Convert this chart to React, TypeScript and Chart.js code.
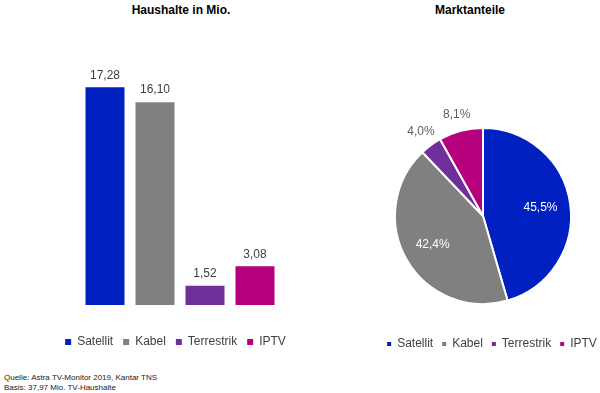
import React, { useEffect, useRef } from "react";
import { Chart, registerables } from "chart.js";

Chart.register(...registerables);

const categories = ["Satellit", "Kabel", "Terrestrik", "IPTV"];
const households = [17.28, 16.1, 1.52, 3.08];
const shares = [45.5, 42.4, 4.0, 8.1];
const colors = ["#0020C2", "#808080", "#70309A", "#B6007E"];
const barTitle = "Haushalte in Mio.";
const pieTitle = "Marktanteile";
const sourceLines = ["Quelle: Astra TV-Monitor 2019, Kantar TNS", "Basis: 37,97 Mio. TV-Haushalte"];

const FONT = "'Liberation Sans', Arial, sans-serif";
const fmt = (v: number, d: number) => v.toFixed(d).replace(".", ",");

const barLabels = {
  id: "barLabels",
  afterDatasetsDraw(chart: any) {
    const ctx = chart.ctx;
    const meta = chart.getDatasetMeta(0);
    ctx.save();
    ctx.font = `12px ${FONT}`;
    ctx.fillStyle = "#404040";
    ctx.textAlign = "center";
    ctx.textBaseline = "middle";
    meta.data.forEach((el: any, i: number) => {
      ctx.fillText(fmt(households[i], 2), el.x, el.y - 12);
    });
    ctx.restore();
  },
};

const pieLabels = {
  id: "pieLabels",
  afterDatasetsDraw(chart: any) {
    const ctx = chart.ctx;
    const meta = chart.getDatasetMeta(0);
    ctx.save();
    ctx.font = `12px ${FONT}`;
    ctx.textAlign = "center";
    ctx.textBaseline = "middle";
    meta.data.forEach((arc: any, i: number) => {
      const mid = (arc.startAngle + arc.endAngle) / 2;
      const big = shares[i] > 20;
      const r = arc.outerRadius * (big ? 0.66 : 1.19);
      ctx.fillStyle = big ? "#ffffff" : "#606060";
      ctx.fillText(fmt(shares[i], 1) + "%", arc.x + Math.cos(mid) * r, arc.y + Math.sin(mid) * r);
    });
    ctx.restore();
  },
};

const shiftLegend = {
  id: "shiftLegend",
  afterLayout(chart: any) {
    const l = chart.legend;
    if (l) {
      l.left += 9;
      l.right += 9;
    }
  },
};

function BarChart() {
  const ref = useRef<HTMLCanvasElement>(null);
  useEffect(() => {
    const chart = new Chart(ref.current as HTMLCanvasElement, {
      type: "bar",
      data: {
        labels: categories,
        datasets: [
          {
            data: households,
            backgroundColor: colors,
            borderWidth: 0,
            barPercentage: 0.78,
            categoryPercentage: 1,
          },
        ],
      },
      options: {
        responsive: false,
        animation: false,
        devicePixelRatio: 1,
        layout: { padding: { left: 0, right: 0, top: 53, bottom: 2 } },
        scales: {
          x: {
            display: true,
            grid: { display: false },
            border: { display: false },
            ticks: { display: false },
            afterFit: (s: any) => {
              s.height = 21;
            },
          },
          y: {
            display: true,
            position: "left",
            min: 0,
            max: 20,
            grid: { display: false },
            border: { display: false },
            ticks: { display: false },
            afterFit: (s: any) => {
              s.width = 80;
            },
          },
          y2: {
            display: true,
            position: "right",
            min: 0,
            max: 20,
            grid: { display: false },
            border: { display: false },
            ticks: { display: false },
            afterFit: (s: any) => {
              s.width = 71;
            },
          },
        },
        plugins: {
          title: { display: false },
          tooltip: { enabled: false },
          legend: {
            display: true,
            position: "bottom",
            labels: {
              boxWidth: 6,
              boxHeight: 6,
              padding: 10,
              color: "#404040",
              font: { family: FONT, size: 12 },
              generateLabels: () =>
                categories.map((c, i) => ({
                  text: c,
                  fillStyle: colors[i],
                  strokeStyle: colors[i],
                  lineWidth: 0,
                  fontColor: "#404040",
                  hidden: false,
                  index: i,
                  datasetIndex: 0,
                })),
            },
          },
        },
      } as any,
      plugins: [barLabels],
    });
    return () => chart.destroy();
  }, []);
  return (
    <canvas
      ref={ref}
      width={351}
      height={360}
      style={{ position: "absolute", left: 0, top: 0, width: 351, height: 360 }}
    />
  );
}

function PieChart() {
  const ref = useRef<HTMLCanvasElement>(null);
  useEffect(() => {
    const chart = new Chart(ref.current as HTMLCanvasElement, {
      type: "pie",
      data: {
        labels: categories,
        datasets: [
          {
            data: shares,
            backgroundColor: colors,
            borderColor: "#ffffff",
            borderWidth: 2,
            radius: 88,
          },
        ],
      },
      options: {
        responsive: false,
        animation: false,
        devicePixelRatio: 1,
        layout: { padding: { left: 0, right: 0, top: 103, bottom: 0 } },
        plugins: {
          tooltip: { enabled: false },
          legend: {
            display: true,
            position: "bottom",
            labels: {
              boxWidth: 4,
              boxHeight: 4,
              padding: 9,
              color: "#404040",
              font: { family: FONT, size: 12 },
              generateLabels: () =>
                categories.map((c, i) => ({
                  text: c,
                  fillStyle: colors[i],
                  strokeStyle: colors[i],
                  lineWidth: 0,
                  fontColor: "#404040",
                  hidden: false,
                  index: i,
                })),
            },
          },
        },
      } as any,
      plugins: [pieLabels, shiftLegend],
    });
    return () => chart.destroy();
  }, []);
  return (
    <canvas
      ref={ref}
      width={234}
      height={360}
      style={{ position: "absolute", left: 366, top: 0, width: 234, height: 360 }}
    />
  );
}

export default function App() {
  const titleStyle: React.CSSProperties = {
    position: "absolute",
    top: 3,
    width: 200,
    textAlign: "center",
    fontFamily: FONT,
    fontWeight: "bold",
    fontSize: 12,
    lineHeight: "14px",
    color: "#000",
  };
  return (
    <div
      style={{
        position: "fixed",
        left: 0,
        top: 0,
        width: 600,
        height: 393,
        background: "#fff",
        overflow: "hidden",
      }}
    >
      <div style={{ ...titleStyle, left: 81 }}>{barTitle}</div>
      <div style={{ ...titleStyle, left: 370 }}>{pieTitle}</div>
      <BarChart />
      <PieChart />
      <div
        style={{
          position: "absolute",
          left: 4,
          top: 373,
          fontFamily: FONT,
          fontSize: 8,
          lineHeight: "10px",
          color: "#222",
          whiteSpace: "nowrap",
        }}
      >
        {sourceLines.map((s, i) => (
          <div key={i}>{s}</div>
        ))}
      </div>
    </div>
  );
}
